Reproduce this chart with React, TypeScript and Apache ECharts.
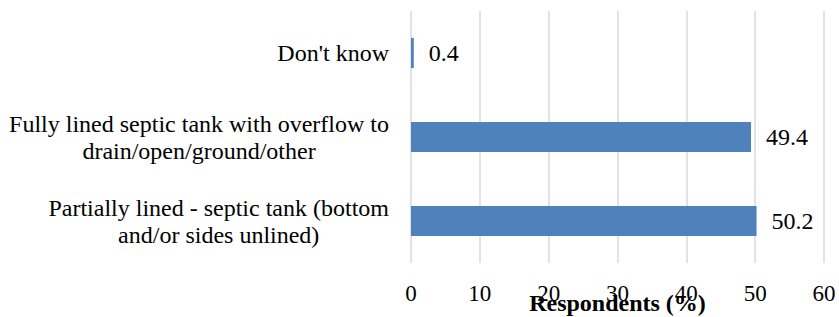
import React, { useEffect, useRef } from "react";
import * as echarts from "echarts";

const categories: string[] = [
  "Partially lined - septic tank (bottom\nand/or sides unlined)",
  "Fully lined septic tank with overflow to\ndrain/open/ground/other",
  "Don't know",
];
const values: number[] = [50.2, 49.4, 0.4];
const xTicks = { min: 0, max: 60, interval: 10 };
const xAxisName = "Respondents (%)";

const FONT = "Liberation Serif";

export default function App() {
  const ref = useRef<HTMLDivElement>(null);
  useEffect(() => {
    if (!ref.current) return;
    const chart = echarts.init(ref.current, undefined, { renderer: "svg" });
    chart.setOption({
      animation: false,
      backgroundColor: "#ffffff",
      textStyle: { fontFamily: FONT },
      grid: {
        left: 411,
        right: 15,
        top: 11,
        bottom: 54,
        containLabel: false,
        outerBoundsMode: "none",
      },
      xAxis: {
        type: "value",
        min: xTicks.min,
        max: xTicks.max,
        interval: xTicks.interval,
        name: xAxisName,
        nameLocation: "middle",
        nameGap: 28,
        nameMoveOverlap: false,
        nameTextStyle: { fontFamily: FONT, fontSize: 24, fontWeight: "bold", color: "#000" },
        axisLine: { show: false },
        axisTick: { show: false },
        axisLabel: { fontFamily: FONT, fontSize: 23, color: "#000", margin: 19 },
        splitLine: { show: true, lineStyle: { color: "#d9d9d9", width: 1.5 } },
      },
      yAxis: {
        type: "category",
        data: categories,
        axisLine: { show: false },
        axisTick: { show: false },
        axisLabel: {
          margin: 22,
          color: "#000",
          fontFamily: FONT,
          fontSize: 24,
          lineHeight: 27,
          formatter: (v: string) =>
            v
              .split("\n")
              .map((l) => "{c|" + l + "}")
              .join("\n"),
          rich: {
            c: { fontFamily: FONT, fontSize: 24, color: "#000", align: "center", lineHeight: 27 },
          },
        },
        splitLine: { show: false },
      },
      series: [
        {
          type: "bar",
          data: values,
          barWidth: "36%",
          itemStyle: { color: "#4F81BD" },
          label: {
            show: true,
            position: "right",
            distance: 15,
            fontFamily: FONT,
            fontSize: 24,
            color: "#000",
          },
        },
      ],
    });
    return () => chart.dispose();
  }, []);
  return (
    <div
      ref={ref}
      style={{ position: "fixed", left: 0, top: 0, width: 839, height: 317 }}
    />
  );
}
